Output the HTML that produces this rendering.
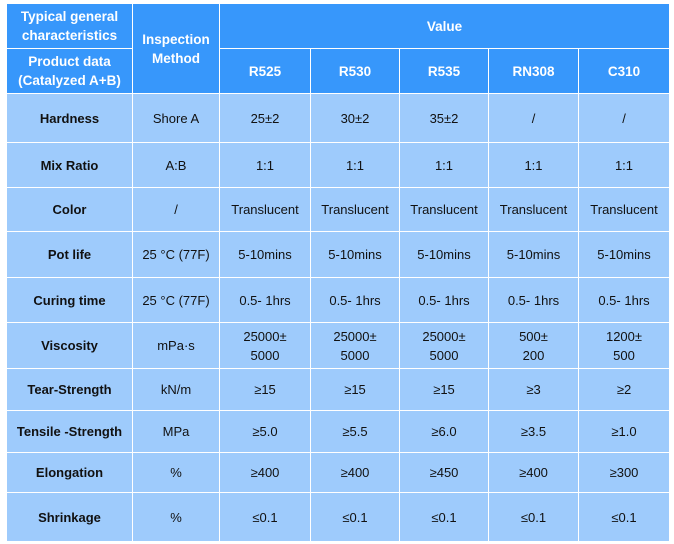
<!DOCTYPE html>
<html><head><meta charset="utf-8"><style>
body{margin:0;background:#fff;width:674px;height:544px;overflow:hidden;font-family:"Liberation Sans",sans-serif;}
table{position:absolute;left:6px;top:3px;border-collapse:collapse;table-layout:fixed;}
td{border:1.5px solid #fff;text-align:center;padding:0;font-size:13px;color:#111;background:#9ecbfc;line-height:19px;}
td.h{background:#3797fb;color:#fff;font-weight:bold;font-size:13.5px;}
td.b{font-weight:bold;}
</style></head><body>
<table>
<colgroup><col style="width:126px"><col style="width:87px"><col style="width:91px"><col style="width:89px"><col style="width:89px"><col style="width:90px"><col style="width:91px"></colgroup>
<tr style="height:45px"><td class="h">Typical general<br>characteristics</td><td class="h" rowspan="2">Inspection<br>Method</td><td class="h" colspan="5">Value</td></tr>
<tr style="height:45px"><td class="h">Product data<br>(Catalyzed A+B)</td><td class="h">R525</td><td class="h">R530</td><td class="h">R535</td><td class="h">RN308</td><td class="h">C310</td></tr>
<tr style="height:49px"><td class="b">Hardness</td><td>Shore A</td><td>25±2</td><td>30±2</td><td>35±2</td><td>/</td><td>/</td></tr>
<tr style="height:45px"><td class="b">Mix Ratio</td><td>A:B</td><td>1:1</td><td>1:1</td><td>1:1</td><td>1:1</td><td>1:1</td></tr>
<tr style="height:44px"><td class="b">Color</td><td>/</td><td>Translucent</td><td>Translucent</td><td>Translucent</td><td>Translucent</td><td>Translucent</td></tr>
<tr style="height:46px"><td class="b">Pot life</td><td>25 °C (77F)</td><td>5-10mins</td><td>5-10mins</td><td>5-10mins</td><td>5-10mins</td><td>5-10mins</td></tr>
<tr style="height:45px"><td class="b">Curing time</td><td>25 °C (77F)</td><td>0.5- 1hrs</td><td>0.5- 1hrs</td><td>0.5- 1hrs</td><td>0.5- 1hrs</td><td>0.5- 1hrs</td></tr>
<tr style="height:46px"><td class="b">Viscosity</td><td>mPa·s</td><td>25000±<br>5000</td><td>25000±<br>5000</td><td>25000±<br>5000</td><td>500±<br>200</td><td>1200±<br>500</td></tr>
<tr style="height:42px"><td class="b">Tear-Strength</td><td>kN/m</td><td>≥15</td><td>≥15</td><td>≥15</td><td>≥3</td><td>≥2</td></tr>
<tr style="height:42px"><td class="b">Tensile -Strength</td><td>MPa</td><td>≥5.0</td><td>≥5.5</td><td>≥6.0</td><td>≥3.5</td><td>≥1.0</td></tr>
<tr style="height:40px"><td class="b">Elongation</td><td>%</td><td>≥400</td><td>≥400</td><td>≥450</td><td>≥400</td><td>≥300</td></tr>
<tr style="height:49px"><td class="b">Shrinkage</td><td>%</td><td>≤0.1</td><td>≤0.1</td><td>≤0.1</td><td>≤0.1</td><td>≤0.1</td></tr>
</table>
</body></html>
